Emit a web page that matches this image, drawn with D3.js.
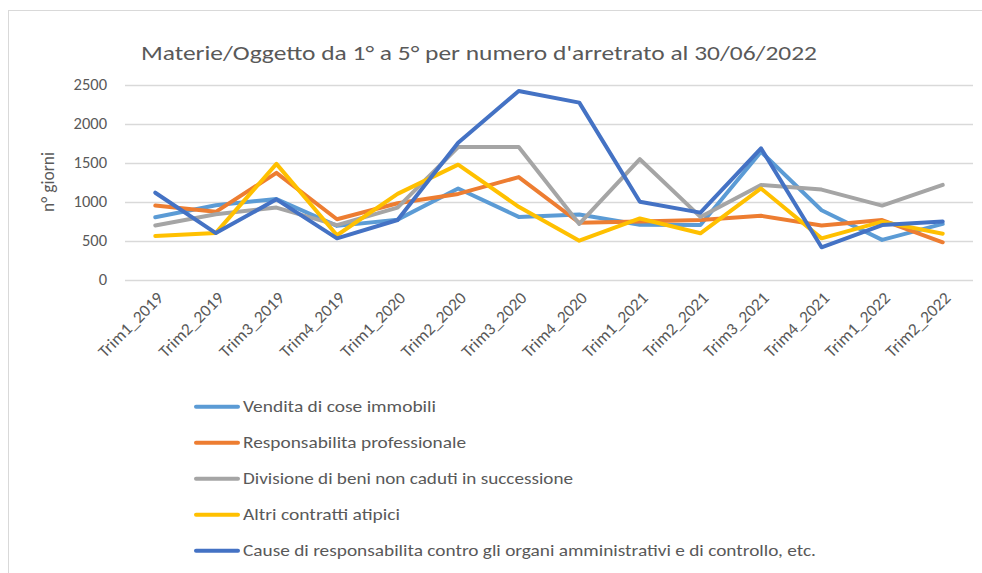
<!DOCTYPE html>
<html>
<head>
<meta charset="utf-8">
<script src="https://cdn.jsdelivr.net/npm/d3@7"></script>
<style>
  body { margin: 0; background: #fff; }
  text { font-family: Carlito, Calibri, "Open Sans", sans-serif; fill: #595959; }
</style>
</head>
<body>
<div id="vis"></div>
<script>
const categories = ["Trim1_2019","Trim2_2019","Trim3_2019","Trim4_2019","Trim1_2020","Trim2_2020","Trim3_2020","Trim4_2020","Trim1_2021","Trim2_2021","Trim3_2021","Trim4_2021","Trim1_2022","Trim2_2022"]

const seriesNames = [
  "Vendita di cose immobili",
  "Responsabilita professionale",
  "Divisione di beni non caduti in successione",
  "Altri contratti atipici",
  "Cause di responsabilita contro gli organi amministrativi e di controllo, etc."
]

const vendita      = [800, 955, 1035, 690, 770, 1170, 805, 835, 705, 700, 1640, 890, 510, 715]
const professionale = [950, 870, 1370, 775, 980, 1100, 1315, 730, 745, 765, 820, 695, 765, 480]
const divisione    = [695, 840, 925, 700, 925, 1700, 1700, 715, 1545, 805, 1215, 1155, 950, 1215]
const atipici      = [560, 600, 1485, 570, 1100, 1475, 935, 500, 785, 595, 1170, 530, 745, 590]
const cause        = [1115, 598, 1030, 530, 765, 1755, 2420, 2270, 1000, 860, 1685, 415, 700, 745]

const yTicks = [0, 500, 1000, 1500, 2000, 2500]
const colors = ["#5B9BD5", "#ED7D31", "#A5A5A5", "#FFC000", "#4472C4"]

const allSeries = [vendita, professionale, divisione, atipici, cause]

const W = 982, H = 573
const svg = d3.select("#vis").append("svg").attr("width", W).attr("height", H)

// chart frame (only left/top visible in the crop)
svg.append("rect").attr("x", 8.5).attr("y", 10.5).attr("width", 1000).attr("height", 600)
  .attr("fill", "none").attr("stroke", "#d9d9d9").attr("stroke-width", 1)

const x = d3.scaleBand().domain(categories).range([125, 973])
const y = d3.scaleLinear().domain([0, 2500]).range([279.7, 84.7])

// gridlines
svg.append("g").selectAll("line").data(yTicks).join("line")
  .attr("x1", 125).attr("x2", 973)
  .attr("y1", d => Math.round(y(d)) + 0.5).attr("y2", d => Math.round(y(d)) + 0.5)
  .attr("stroke", "#d9d9d9").attr("stroke-width", 1.3)

// y axis labels
const yAxis = d3.axisLeft(y).tickValues(yTicks).tickFormat(d3.format("d")).tickSize(0).tickPadding(0)
const gy = svg.append("g").attr("transform", "translate(107,0)").call(yAxis)
gy.select(".domain").remove()
gy.selectAll("text").attr("font-size", 16.5).attr("fill", "#595959")
  .style("font-family", 'Carlito, Calibri, "Open Sans", sans-serif')

// x axis labels
const xAxis = d3.axisBottom(x).tickSize(0).tickPadding(0)
const gx = svg.append("g").attr("transform", "translate(0,280)").call(xAxis)
gx.select(".domain").remove()
gx.selectAll("text")
  .attr("font-size", 17).attr("fill", "#595959")
  .style("font-family", 'Carlito, Calibri, "Open Sans", sans-serif')
  .attr("text-anchor", "end")
  .attr("dy", 0).attr("y", 0)
  .attr("textLength", 84).attr("lengthAdjust", "spacingAndGlyphs")
  .attr("transform", "translate(9,19) rotate(-45)")

// lines
const line = d3.line().x((d, i) => x(categories[i]) + x.bandwidth() / 2).y(d => y(d))
svg.append("g").selectAll("path").data(allSeries).join("path")
  .attr("d", d => line(d))
  .attr("fill", "none")
  .attr("stroke", (d, i) => colors[i])
  .attr("stroke-width", 4)
  .attr("stroke-linejoin", "round")
  .attr("stroke-linecap", "round")

// title
svg.append("text").attr("x", 479).attr("y", 60).attr("text-anchor", "middle")
  .attr("font-size", 21).attr("fill", "#595959")
  .attr("textLength", 676).attr("lengthAdjust", "spacingAndGlyphs")
  .text("Materie/Oggetto da 1° a 5° per numero d'arretrato al 30/06/2022")

// y title
svg.append("text").attr("transform", "translate(54,182) rotate(-90)").attr("text-anchor", "middle")
  .attr("font-size", 17.5).attr("fill", "#595959")
  .text("n° giorni")

// legend
const legendWidths = [193, 223, 330, 157, 573]
const lg = svg.append("g").selectAll("g").data(seriesNames).join("g")
  .attr("transform", (d, i) => `translate(0,${406.7 + i * 36})`)
lg.append("line").attr("x1", 196).attr("x2", 238).attr("y1", 0).attr("y2", 0)
  .attr("stroke", (d, i) => colors[i]).attr("stroke-width", 4).attr("stroke-linecap", "round")
lg.append("text").attr("x", 243).attr("y", 5.5).attr("font-size", 16.5).attr("fill", "#595959")
  .attr("textLength", (d, i) => legendWidths[i]).attr("lengthAdjust", "spacingAndGlyphs")
  .text(d => d)
</script>
</body>
</html>
